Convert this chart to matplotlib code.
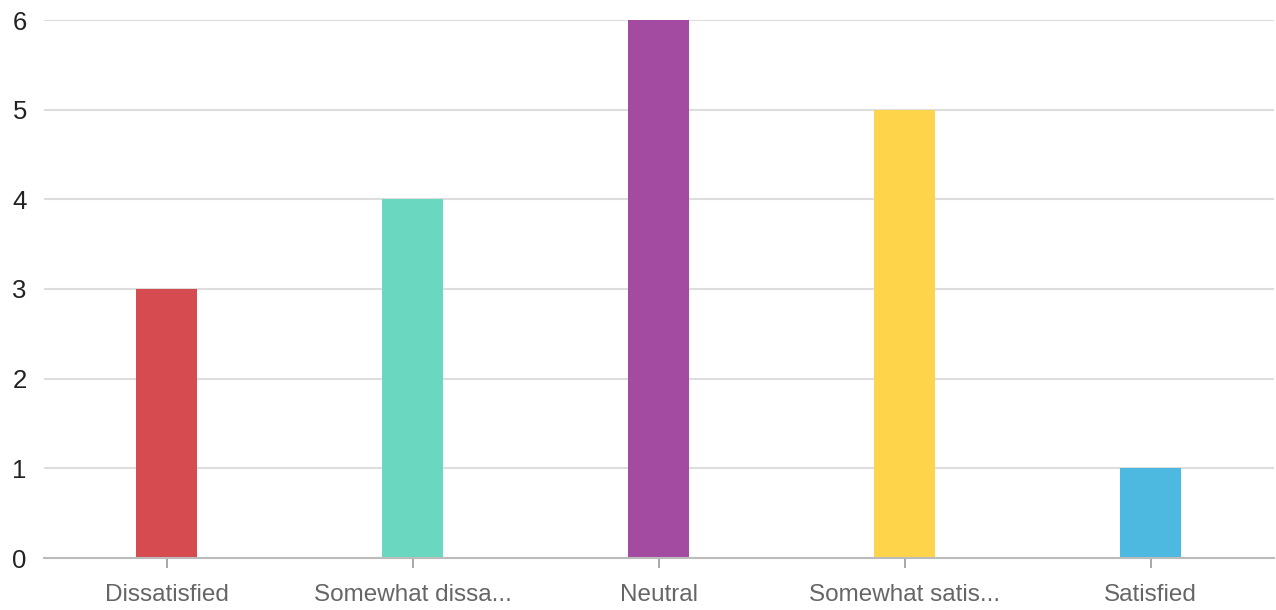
import matplotlib
matplotlib.use("Agg")
from matplotlib import pyplot as plt

categories = ["Dissatisfied", "Somewhat dissa...", "Neutral", "Somewhat satis...", "Satisfied"]
counts = [3, 4, 6, 5, 1]
colors = ["#d64b4f", "#6ad8c0", "#a34ba0", "#fed54a", "#4db9e0"]
yticks = [0, 1, 2, 3, 4, 5, 6]

plt.rcParams['font.family'] = ['Liberation Sans', 'DejaVu Sans']

fig = plt.figure(figsize=(12.76, 6.10), dpi=100)
ax = fig.add_axes([43.5/1276, 52/610, 1230/1276, 538/610])

x = list(range(len(categories)))
ax.bar(x, counts, width=0.25, color=colors, zorder=3)

ax.set_xlim(-0.5, len(categories) - 0.5)
ax.set_ylim(0, 6)
ax.set_yticks(yticks)
ax.set_xticks(x)
ax.set_xticklabels(categories, color="#666666", fontsize=17.5)
for lab in ax.get_yticklabels():
    lab.set_fontsize(18.5)
    lab.set_color("#222222")

ax.grid(axis="y", color="#dddddd", linewidth=1.5, zorder=0)
ax.tick_params(axis="y", length=0, pad=12)
ax.tick_params(axis="x", length=7, width=1.2, color="#999999", pad=12)
for s in ["top", "right", "left"]:
    ax.spines[s].set_visible(False)
ax.spines["bottom"].set_color("#bbbbbb")
ax.spines["bottom"].set_linewidth(1.5)
ax.spines["bottom"].set_zorder(4)

fig.savefig("out.png", dpi=100)
